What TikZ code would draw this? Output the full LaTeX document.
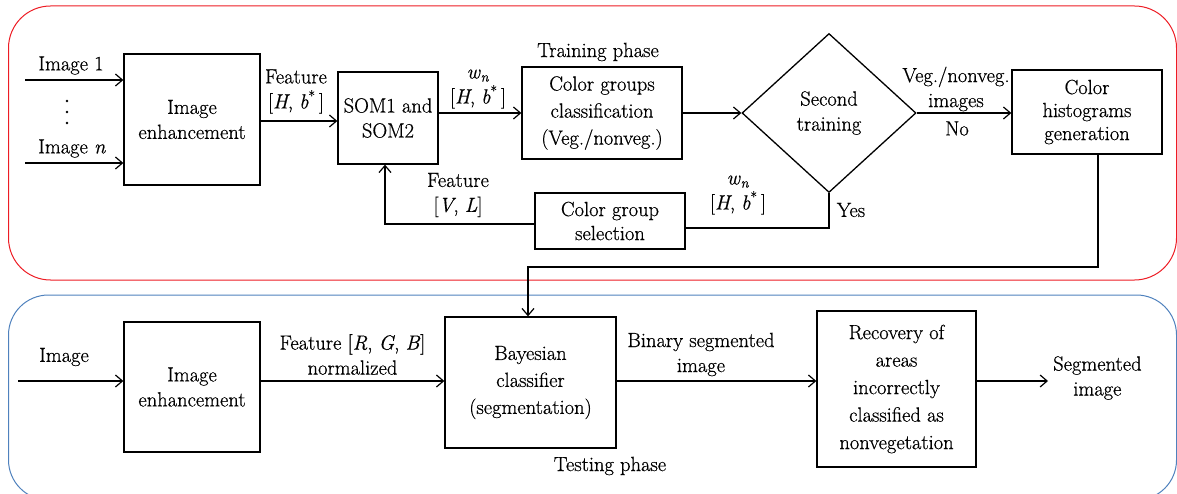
\documentclass[tikz,border=0pt]{standalone}
\usepackage{fontspec}
\setmainfont{Latin Modern Roman}[UprightFeatures={FakeBold=0.6}, ItalicFeatures={FakeBold=0.6}]
\usetikzlibrary{arrows.meta,shapes.geometric}
\definecolor{framered}{RGB}{237,28,36}
\definecolor{frameblue}{RGB}{79,129,189}
\newcommand{\vi}[1]{\textit{#1}}
\newcommand{\hb}{[\vi{H}, \vi{b}\textsuperscript{*}\,]}
\newcommand{\wn}{\vi{w}\textsubscript{\vi{n}}}
\begin{document}
\begin{tikzpicture}[x=1pt,y=-1pt,
  font=\rmfamily\fontsize{20.5}{25}\selectfont,
  box/.style={draw, line width=1.3pt, align=center, inner sep=0pt},
  lbl/.style={align=center, inner sep=0pt},
  conn/.style={line width=1.2pt},
  arr/.style={conn, -{Straight Barb[length=7pt,width=12pt]}},
]
\useasboundingbox (0,0) rectangle (1177,494);
\begin{scope}
\clip (0,0) rectangle (1177,494);
\draw[framered, line width=1pt, rounded corners=42] (8.5,6) rectangle (1176.5,280);
\draw[frameblue, line width=1pt, rounded corners=40] (8.5,295) rectangle (1176.5,500);
\end{scope}

% ---------- training phase ----------
\node[box, minimum width=136, minimum height=131] (ie1) at (192,119.5) {Image\\enhancement};
\node[box, minimum width=100, minimum height=92] (som) at (388,118) {SOM1 and\\SOM2};
\node[box, minimum width=160, minimum height=92, font=\rmfamily\fontsize{20.5}{27}\selectfont] (cg) at (602,113) {Color groups\\classification\\(Veg./nonveg.)};
\node[draw, diamond, line width=1.3pt, minimum width=174, minimum height=159, inner sep=0pt, align=center] (dia) at (829,113) {Second\\training};
\node[box, minimum width=150, minimum height=84, font=\rmfamily\fontsize{20.5}{23}\selectfont] (ch) at (1087,112) {Color\\histograms\\generation};
\node[box, minimum width=150, minimum height=56, font=\rmfamily\fontsize{20.5}{24}\selectfont] (cgs) at (610,221) {Color group\\selection};

\node[lbl] (t1) at (71,65.5) {Image 1};
\node[lbl] (tn) at (72,148.5) {Image \vi{n}};
\fill (67,101) circle (1.4) (67,112) circle (1.4) (67,123) circle (1.4);
\node[lbl] (tph) at (598,52) {Training phase};
\node[lbl] (f1) at (296,91.5) {Feature\\\hb};
\node[lbl] (w1) at (478,89) {\wn\\\hb};
\node[lbl] (veg) at (956,89) {Veg./nonveg.\\images};
\node[lbl] (no) at (957,128.5) {No};
\node[lbl] (yes) at (851,210) {Yes};
\node[lbl] (fvl) at (458,195) {Feature\\{}[\vi{V}, \vi{L}]};
\node[lbl] (w2) at (738,195) {\wn\\\hb};

\coordinate (in1) at (25,80);
\coordinate (inn) at (25,163);
\draw[arr] (in1) -- (in1 -| ie1.west);
\draw[arr] (inn) -- (inn -| ie1.west);
\coordinate (r1) at (0,121);
\coordinate (r2) at (0,113);
\draw[arr] (r1 -| ie1.east) -- (r1 -| som.west);
\draw[arr] (r2 -| som.east) -- (r2 -| cg.west);
\draw[arr] (r2 -| cg.east) -- (dia.west);
\draw[arr] (dia.east) -- (dia.east -| ch.west);
\coordinate (yc) at (829,228);
\draw[conn] (dia.south) -- (yc) -- (yc -| cgs.east);
\coordinate (fb) at (385,224);
\draw[arr] (fb -| cgs.west) -- (fb) -- (fb |- som.south);

% ---------- testing phase ----------
\node[box, minimum width=136, minimum height=130] (ie2) at (192,387) {Image\\enhancement};
\node[box, minimum width=171, minimum height=131, font=\rmfamily\fontsize{20.5}{27}\selectfont] (bay) at (530.5,382.5) {Bayesian\\classifier\\(segmentation)};
\node[box, minimum width=159, minimum height=156, font=\rmfamily\fontsize{20.5}{27.5}\selectfont] (rec) at (896.5,389) {Recovery of\\areas\\incorrectly\\classified as\\nonvegetation};

\node[lbl] (timg) at (64,357) {Image};
\node[lbl] (frgb) at (352.5,354.5) {Feature [\vi{R}, \vi{G}, \vi{B}]\\normalized};
\node[lbl] (bin) at (701,354.5) {Binary segmented\\image};
\node[lbl] (tst) at (610,466) {Testing phase};
\node[lbl, anchor=west] (seg) at (1053,378) {Segmented\\image};

\coordinate (row) at (0,381);
\coordinate (in2) at (18,381);
\coordinate (out) at (1048,381);
\draw[arr] (in2) -- (row -| ie2.west);
\draw[arr] (row -| ie2.east) -- (row -| bay.west);
\draw[arr] (row -| bay.east) -- (row -| rec.west);
\draw[arr] (row -| rec.east) -- (out);

\coordinate (hc) at (1098,267);
\coordinate (bc) at (528,267);
\draw[arr] (hc |- ch.south) -- (hc) -- (bc) -- (bc |- bay.north);
\end{tikzpicture}
\end{document}
